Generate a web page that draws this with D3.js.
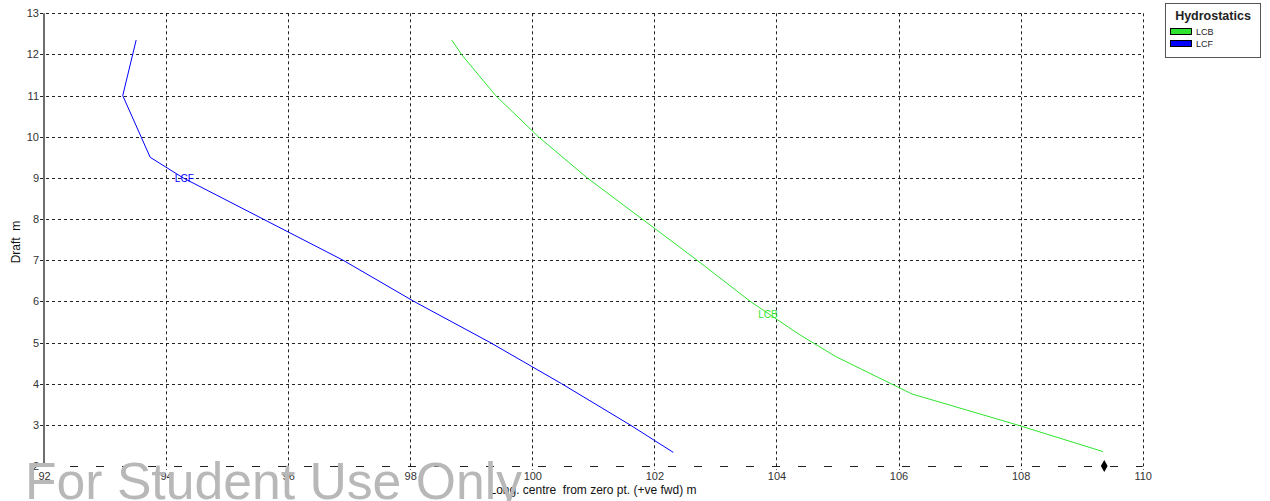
<!DOCTYPE html>
<html>
<head>
<meta charset="utf-8">
<script src="https://cdn.jsdelivr.net/npm/d3@7"></script>
<style>
  html, body { margin: 0; padding: 0; background: #fff; }
  svg { display: block; font-family: "Liberation Sans", Arial, sans-serif; }
</style>
</head>
<body>
<svg id="chart" width="1270" height="501"></svg>
<script>
// Hydrostatic curves: longitudinal centres vs. draft
const xTicks = [92, 94, 96, 98, 100, 102, 104, 106, 108, 110];
const yTicks = [2, 3, 4, 5, 6, 7, 8, 9, 10, 11, 12, 13];

const lcbDraft = [2.35, 3.0, 3.75, 4.66, 5.2, 6.0, 7.0, 8.0, 9.0, 10.0, 11.0, 12.0, 12.35];
const lcbValue = [109.35, 107.94, 106.22, 104.97, 104.37, 103.57, 102.7, 101.8, 100.9, 100.1, 99.4, 98.84, 98.68];

const lcfDraft = [2.33, 3.0, 4.0, 5.0, 6.0, 7.0, 8.0, 9.0, 9.5, 11.0, 12.35];
const lcfValue = [102.31, 101.6, 100.48, 99.31, 98.06, 96.9, 95.59, 94.28, 93.74, 93.29, 93.51];

const markerPoint = [109.37, 2.0];

const seriesNames = ["LCB", "LCF"];
const seriesColors = ["#2fe42f", "#0000ff"];

const svg = d3.select("#chart");
const x = d3.scaleLinear().domain([92, 110]).range([44, 1142.7]);
const y = d3.scaleLinear().domain([2, 13]).range([466, 13.3]);

const grid = svg.append("g");
// horizontal grid lines (short dashes) above the baseline
grid.selectAll("line.h").data(yTicks.filter(d => d > 2)).join("line")
  .attr("x1", 40).attr("x2", x(110))
  .attr("y1", d => Math.round(y(d)) + 0.5).attr("y2", d => Math.round(y(d)) + 0.5)
  .attr("stroke", "#222").attr("stroke-width", 1).attr("stroke-dasharray", "3,3");
// baseline at the lowest draft (long dashes)
grid.append("line")
  .attr("x1", 44).attr("x2", x(110))
  .attr("y1", Math.round(y(2)) + 0.5).attr("y2", Math.round(y(2)) + 0.5)
  .attr("stroke", "#222").attr("stroke-width", 1).attr("stroke-dasharray", "8,18");
// vertical grid lines
grid.selectAll("line.v").data(xTicks.filter(d => d > 92)).join("line")
  .attr("x1", d => Math.round(x(d)) + 0.5).attr("x2", d => Math.round(x(d)) + 0.5)
  .attr("y1", y(13)).attr("y2", y(2) + 4)
  .attr("stroke", "#222").attr("stroke-width", 1).attr("stroke-dasharray", "3,3");

// solid left axis line
svg.append("line")
  .attr("x1", 44).attr("x2", 44).attr("y1", y(13)).attr("y2", y(2))
  .attr("stroke", "#6e6e6e").attr("stroke-width", 2);

// y axis labels
const yAxis = d3.axisLeft(y).tickValues(yTicks).tickSize(0).tickPadding(5).tickFormat(d3.format("d"));
const gy = svg.append("g").attr("transform", "translate(44,0)").call(yAxis);
gy.select(".domain").remove();
gy.selectAll("text").attr("font-size", 11).attr("fill", "#333")
  .attr("font-family", "Liberation Sans, Arial, sans-serif");

// x axis labels
const xAxis = d3.axisBottom(x).tickValues(xTicks).tickSize(0).tickPadding(6).tickFormat(d3.format("d"));
const gx = svg.append("g").attr("transform", `translate(0,${y(2)})`).call(xAxis);
gx.select(".domain").remove();
gx.selectAll("text").attr("font-size", 11).attr("fill", "#333")
  .attr("font-family", "Liberation Sans, Arial, sans-serif");

// axis titles
svg.append("text")
  .attr("x", 593).attr("y", 494).attr("text-anchor", "middle")
  .attr("font-size", 12).attr("fill", "#111").style("white-space", "pre")
  .text("Long. centre  from zero pt. (+ve fwd) m");
svg.append("text")
  .attr("transform", "translate(20,242) rotate(-90)").attr("text-anchor", "middle")
  .attr("font-size", 12).attr("fill", "#111").style("white-space", "pre")
  .text("Draft  m");

// curves
const line = d3.line().x(d => x(d[0])).y(d => y(d[1]));
const lcbPts = lcbDraft.map((d, i) => [lcbValue[i], d]);
const lcfPts = lcfDraft.map((d, i) => [lcfValue[i], d]);
[lcbPts, lcfPts].forEach((pts, i) => {
  svg.append("path").datum(pts)
    .attr("d", line).attr("fill", "none")
    .attr("stroke", seriesColors[i]).attr("stroke-width", 1);
});

// in-plot curve labels
svg.append("text").attr("x", x(93.8) + 21).attr("y", y(9.0) + 4)
  .attr("font-size", 10).attr("fill", seriesColors[1]).text("LCF");
svg.append("text").attr("x", x(103.75) - 3).attr("y", y(5.7) + 4)
  .attr("font-size", 10).attr("fill", seriesColors[0]).text("LCB");

// marker at the baseline
svg.append("path")
  .attr("d", d3.symbol(d3.symbolDiamond, 40)())
  .attr("transform", `translate(${x(markerPoint[0])},${y(markerPoint[1])})`)
  .attr("fill", "#000");

// legend
const lg = svg.append("g");
lg.append("rect").attr("x", 1165.5).attr("y", 3.5).attr("width", 95).attr("height", 54)
  .attr("fill", "#fff").attr("stroke", "#555").attr("stroke-width", 1);
lg.append("text").attr("x", 1213).attr("y", 20).attr("text-anchor", "middle")
  .attr("font-size", 12.5).attr("font-weight", "bold").attr("fill", "#222").text("Hydrostatics");
seriesNames.forEach((name, i) => {
  lg.append("rect").attr("x", 1170.5).attr("y", 28.5 + i * 12).attr("width", 21).attr("height", 6)
    .attr("fill", seriesColors[i]).attr("stroke", "#000").attr("stroke-width", 1);
  lg.append("text").attr("x", 1196).attr("y", 35 + i * 12)
    .attr("font-size", 9).attr("fill", "#222").text(name);
});

// watermark
svg.append("text")
  .attr("x", 25).attr("y", 499)
  .attr("font-size", 52).attr("fill", "#b8b8b8")
  .attr("textLength", 497).attr("lengthAdjust", "spacingAndGlyphs")
  .text("For Student Use Only");
</script>
</body>
</html>
